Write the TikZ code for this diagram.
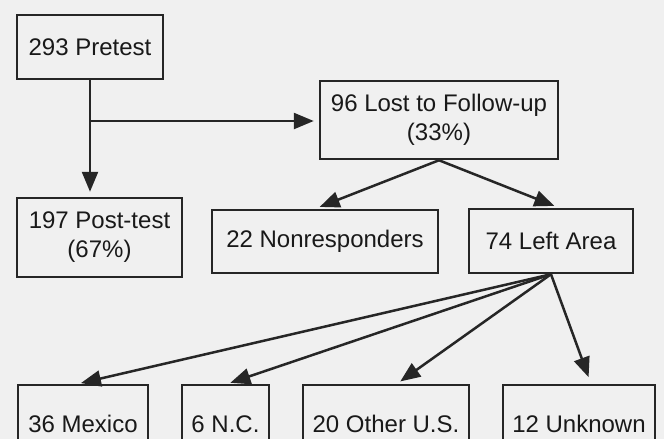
\documentclass[tikz,border=0pt]{standalone}
\usepackage{fontspec}
\setmainfont{Liberation Sans}
\usetikzlibrary{arrows.meta}

\begin{document}
\begin{tikzpicture}[x=1pt,y=-1pt,line width=2.5pt,
  box/.style={draw=black!85,text=black!90,align=center,inner sep=0pt,
    font=\fontsize{24}{29}\selectfont},
  link/.style={-{Triangle[length=20pt,width=16pt]},draw=black!85,fill=black!85}]
\clip (0,0) rectangle (664,439);
\fill[black!6] (0,0) rectangle (664,439);
\node[box,minimum width=146pt,minimum height=64pt] (pre) at (90,47) {293 Pretest};
\node[box,minimum width=238pt,minimum height=78pt] (lost) at (439,120) {96 Lost to Follow-up\\(33\%)};
\node[box,minimum width=165pt,minimum height=79pt] (post) at (99.5,237.5) {197 Post-test\\(67\%)};
\node[box,minimum width=226pt,minimum height=63pt] (nonr) at (325,241.5) {22 Nonresponders};
\node[box,minimum width=164pt,minimum height=64pt] (left) at (551,241) {74 Left Area};
\node[box,minimum width=130pt,minimum height=78pt] (mex) at (83,424) {36 Mexico};
\node[box,minimum width=87pt,minimum height=78pt] (nc) at (225.5,424) {6 N.C.};
\node[box,minimum width=166pt,minimum height=78pt] (other) at (386,424) {20 Other U.S.};
\node[box,minimum width=152pt,minimum height=78pt] (unk) at (579,424) {12 Unknown};
\coordinate (split) at (90,121);
\draw[link,shorten >=5pt] (pre.south) -- (pre.south |- post.north);
\draw[link,shorten >=5pt] (split) -- (split -| lost.west);
\draw[link,shorten >=5pt] (lost.south) -- ([xshift=-10pt]nonr.north);
\draw[link,shorten >=5pt] (lost.south) -- ([xshift=8pt]left.north);
\draw[link,shorten >=3pt] (left.south) -- ([xshift=-5pt]mex.north);
\draw[link,shorten >=3pt] (left.south) -- ([xshift=2pt]nc.north);
\draw[link,shorten >=4pt] (left.south) -- ([xshift=11pt]other.north);
\draw[link,shorten >=7pt] (left.south) -- ([xshift=12pt]unk.north);
\end{tikzpicture}
\end{document}
